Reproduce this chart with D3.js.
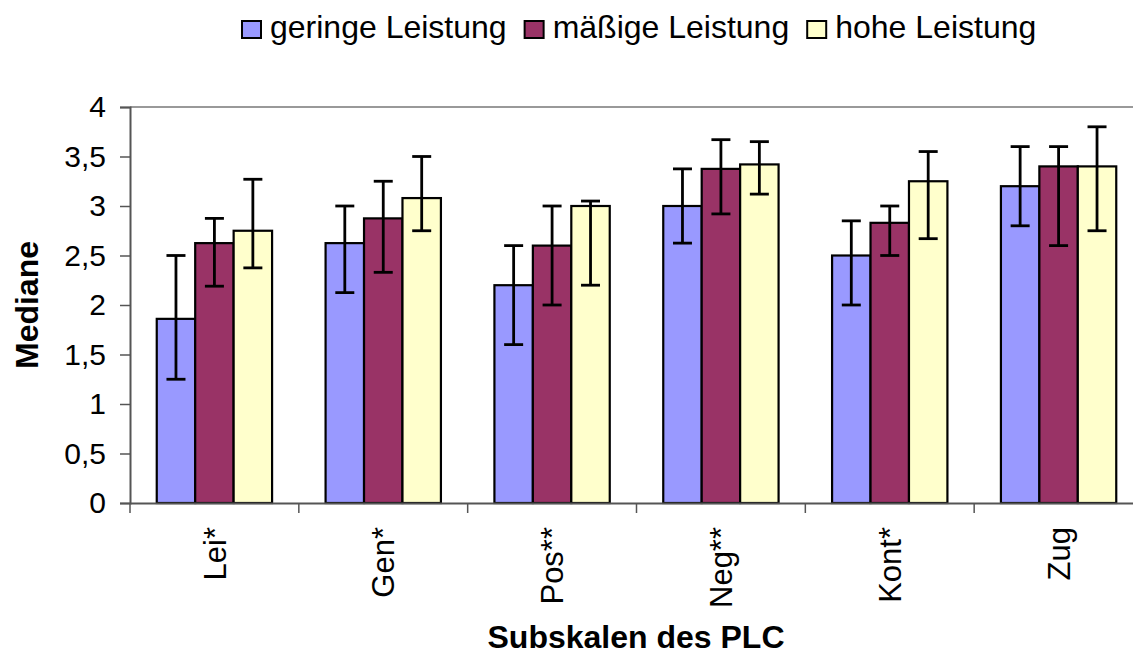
<!DOCTYPE html>
<html>
<head>
<meta charset="utf-8">
<script src="https://cdn.jsdelivr.net/npm/d3@7"></script>
<style>
  body { margin: 0; background: #fff; }
  text { font-family: "Liberation Sans", Arial, sans-serif; }
</style>
</head>
<body>
<div id="root"></div>
<script>
const categories = ["Lei*", "Gen*", "Pos**", "Neg**", "Kont*", "Zug"];
const seriesNames = ["geringe Leistung", "mäßige Leistung", "hohe Leistung"];
const colors = ["#9999ff", "#993366", "#ffffcc"];

// medians
const geringe = [1.86, 2.625, 2.2, 3.0, 2.5, 3.2];
const maessig = [2.625, 2.875, 2.6, 3.375, 2.83, 3.4];
const hohe = [2.75, 3.08, 3.0, 3.42, 3.25, 3.4];

// error bar ends (low / high)
const geringeLow = [1.25, 2.125, 1.6, 2.625, 2.0, 2.8];
const geringeHigh = [2.5, 3.0, 2.6, 3.375, 2.85, 3.6];
const maessigLow = [2.19, 2.33, 2.0, 2.92, 2.5, 2.6];
const maessigHigh = [2.875, 3.25, 3.0, 3.67, 3.0, 3.6];
const hoheLow = [2.375, 2.75, 2.2, 3.12, 2.67, 2.75];
const hoheHigh = [3.27, 3.5, 3.05, 3.65, 3.55, 3.8];

const yTicks = [0, 0.5, 1, 1.5, 2, 2.5, 3, 3.5, 4];

const values = [geringe, maessig, hohe];
const lows = [geringeLow, maessigLow, hoheLow];
const highs = [geringeHigh, maessigHigh, hoheHigh];

const data = [];
categories.forEach((c, i) => {
  seriesNames.forEach((s, j) => {
    data.push({ cat: c, series: s, idx: j, value: values[j][i], low: lows[j][i], high: highs[j][i] });
  });
});

const width = 1133;
const height = 654;
const margin = { top: 107, right: -10, bottom: 151, left: 130 };

const x = d3.scaleBand().domain(categories).range([margin.left, width - margin.right]);
const xInner = d3.scaleBand().domain(seriesNames).range([26.75, x.bandwidth() - 26.75]);
const y = d3.scaleLinear().domain([0, 4]).range([height - margin.bottom, margin.top]);

const locale = d3.formatLocale({ decimal: ",", thousands: ".", grouping: [3], currency: ["", " €"] });
const fmt = locale.format("~g");

const svg = d3
  .select("#root")
  .append("svg")
  .attr("width", width)
  .attr("height", height);

// top border of plot area
svg
  .append("line")
  .attr("x1", margin.left)
  .attr("x2", width - margin.right)
  .attr("y1", y(4))
  .attr("y2", y(4))
  .attr("stroke", "#999")
  .attr("stroke-width", 2);

// bars
svg
  .append("g")
  .selectAll(".bar")
  .data(data)
  .enter()
  .append("rect")
  .attr("class", "bar")
  .attr("x", (d) => x(d.cat) + xInner(d.series))
  .attr("y", (d) => y(d.value))
  .attr("width", xInner.bandwidth())
  .attr("height", (d) => y(0) - y(d.value))
  .attr("fill", (d) => colors[d.idx])
  .attr("stroke", "#000")
  .attr("stroke-width", 2.2);

// error bars
const err = svg.append("g").attr("stroke", "#000").attr("stroke-width", 2.8);
const cx = (d) => x(d.cat) + xInner(d.series) + xInner.bandwidth() / 2;
err
  .selectAll(".stem")
  .data(data)
  .enter()
  .append("line")
  .attr("x1", cx)
  .attr("x2", cx)
  .attr("y1", (d) => y(d.low))
  .attr("y2", (d) => y(d.high));
["low", "high"].forEach((k) => {
  err
    .selectAll(".cap-" + k)
    .data(data)
    .enter()
    .append("line")
    .attr("x1", (d) => cx(d) - 9.5)
    .attr("x2", (d) => cx(d) + 9.5)
    .attr("y1", (d) => y(d[k]))
    .attr("y2", (d) => y(d[k]));
});

// y axis
const yAxis = d3.axisLeft(y).tickValues(yTicks).tickFormat(fmt).tickSize(10).tickPadding(14);
const gy = svg
  .append("g")
  .attr("transform", `translate(${margin.left},0)`)
  .call(yAxis);
gy.select(".domain").attr("stroke", "#555").attr("stroke-width", 2);
gy.selectAll(".tick line").attr("stroke", "#555").attr("stroke-width", 1.5);
gy.selectAll(".tick text")
  .attr("font-size", "30px")
  .attr("font-family", "Liberation Sans, Arial, sans-serif")
  .attr("fill", "#000");

// x axis
const xAxis = d3.axisBottom(x).tickSize(0).tickFormat("");
const gx = svg
  .append("g")
  .attr("transform", `translate(0,${y(0)})`)
  .call(xAxis);
gx.select(".domain").attr("stroke", "#555").attr("stroke-width", 2);

// category boundary ticks
svg
  .append("g")
  .selectAll("line")
  .data(categories)
  .enter()
  .append("line")
  .attr("x1", (d) => x(d))
  .attr("x2", (d) => x(d))
  .attr("y1", y(0))
  .attr("y2", y(0) + 10)
  .attr("stroke", "#555")
  .attr("stroke-width", 1.5);

// category labels (rotated)
svg
  .append("g")
  .selectAll("text")
  .data(categories)
  .enter()
  .append("text")
  .attr("transform", (d) => `translate(${x(d) + x.bandwidth() / 2},${y(0) + 24}) rotate(-90)`)
  .attr("text-anchor", "end")
  .attr("dy", "0.36em")
  .attr("font-size", "31px")
  .attr("fill", "#000")
  .text((d) => d);

// axis titles
svg
  .append("text")
  .attr("transform", `translate(26,${(y(0) + y(4)) / 2}) rotate(-90)`)
  .attr("text-anchor", "middle")
  .attr("dy", "0.36em")
  .attr("font-size", "32px")
  .attr("font-weight", "bold")
  .text("Mediane");

svg
  .append("text")
  .attr("x", 636)
  .attr("y", 648)
  .attr("text-anchor", "middle")
  .attr("font-size", "32px")
  .attr("font-weight", "bold")
  .text("Subskalen des PLC");

// legend
const legend = svg.append("g");
let lx = 242;
seriesNames.forEach((s, j) => {
  legend
    .append("rect")
    .attr("x", lx)
    .attr("y", 21)
    .attr("width", 19)
    .attr("height", 17)
    .attr("fill", colors[j])
    .attr("stroke", "#000")
    .attr("stroke-width", 2);
  const t = legend
    .append("text")
    .attr("x", lx + 28)
    .attr("y", 38)
    .attr("font-size", "32px")
    .attr("fill", "#000")
    .text(s);
  lx += 28 + t.node().getComputedTextLength() + 18;
});
</script>
</body>
</html>
